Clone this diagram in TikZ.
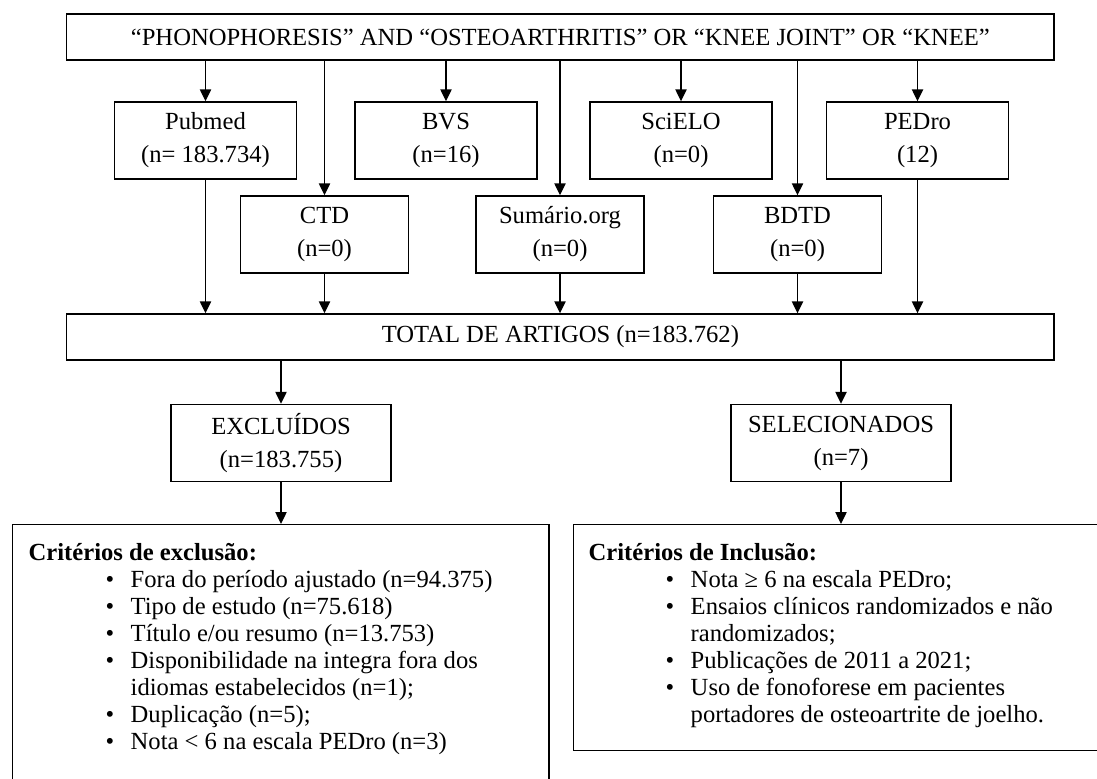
\documentclass[tikz,border=0pt]{standalone}
\usepackage{fontspec}
\setmainfont{Liberation Serif}
\usetikzlibrary{arrows.meta}
\newcommand*{\critem}[1]{\hspace*{1.925cm}\makebox[0.625cm][l]{\textbullet}#1}
\newcommand*{\critcont}[1]{\hspace*{2.55cm}#1}

\begin{document}
\begin{tikzpicture}[x=0.025cm, y=-0.025cm, >={Triangle[length=8.5pt,width=8pt]},
      every node/.style={font=\fontsize{17.5}{23.5}\selectfont, inner sep=0pt, line width=1pt},
      widebox/.style={draw, minimum width=24.675cm, minimum height=1.15cm},
      srcbox/.style={draw, align=center, minimum width=4.55cm, minimum height=1.925cm},
      midbox/.style={srcbox, minimum width=4.2cm},
      resbox/.style={srcbox, minimum width=5.5cm},
      critbox/.style={draw, anchor=north west, minimum width=13.4cm},
      crittext/.style={anchor=north west, align=left, font=\fontsize{17.5}{19.2}\selectfont},
      arr/.style={->, line width=1pt}]
      \path[use as bounding box, fill=white] (0,0) rectangle (1097,778);
      % busca
      \node[widebox] (query) at (560.4,37) {“PHONOPHORESIS” AND “OSTEOARTHRITIS” OR “KNEE JOINT” OR “KNEE”};
      % bases de dados
      \node[srcbox] (pubmed) at (205.5,140.5) {Pubmed\\(n= 183.734)};
      \node[srcbox] (bvs) at (446,140.5) {BVS\\(n=16)};
      \node[srcbox] (scielo) at (681,140.5) {SciELO\\(n=0)};
      \node[srcbox] (pedro) at (917.5,140.5) {PEDro\\(12)};
      \node[midbox] (ctd) at (324.5,234.5) {CTD\\(n=0)};
      \node[midbox] (sumario) at (560,234.5) {Sumário.org\\(n=0)};
      \node[midbox] (bdtd) at (797.5,234.5) {BDTD\\(n=0)};
      \node[widebox] (total) at (560.4,337) {TOTAL DE ARTIGOS (n=183.762)};
      \foreach \db in {pubmed,bvs,scielo,pedro,ctd,sumario,bdtd}
        \draw[arr] (query.south -| \db) -- (\db.north);
      \foreach \db in {pubmed,ctd,sumario,bdtd,pedro}
        \draw[arr] (\db.south) -- (\db |- total.north);
      % triagem
      \node[resbox] (excl) at (281,443) {EXCLUÍDOS\\(n=183.755)};
      \node[resbox] (sel) at (841,443) {SELECIONADOS\\(n=7)};
      \node[critbox, minimum height=7cm] (exclcrit) at (12,524) {};
      \node[critbox, minimum height=5.65cm] (inclcrit) at (573,524) {};
      \node[crittext] (excltext) at ([shift={(16,19)}]exclcrit.north west) {\textbf{Critérios de exclusão:}\\
        \critem{Fora do período ajustado (n=94.375)}\\
        \critem{Tipo de estudo (n=75.618)}\\
        \critem{Título e/ou resumo (n=13.753)}\\
        \critem{Disponibilidade na integra fora dos}\\
        \critcont{idiomas estabelecidos (n=1);}\\
        \critem{Duplicação (n=5);}\\
        \critem{Nota < 6 na escala PEDro (n=3)}};
      \node[crittext] (incltext) at ([shift={(15,19)}]inclcrit.north west) {\textbf{Critérios de Inclusão:}\\
        \critem{Nota ≥ 6 na escala PEDro;}\\
        \critem{Ensaios clínicos randomizados e não}\\
        \critcont{randomizados;}\\
        \critem{Publicações de 2011 a 2021;}\\
        \critem{Uso de fonoforese em pacientes}\\
        \critcont{portadores de osteoartrite de joelho.}};
      \draw[arr] (total.south -| excl) -- (excl.north);
      \draw[arr] (total.south -| sel) -- (sel.north);
      \draw[arr] (excl.south) -- (exclcrit.north -| excl);
      \draw[arr] (sel.south) -- (inclcrit.north -| sel);
    \end{tikzpicture}
\end{document}
